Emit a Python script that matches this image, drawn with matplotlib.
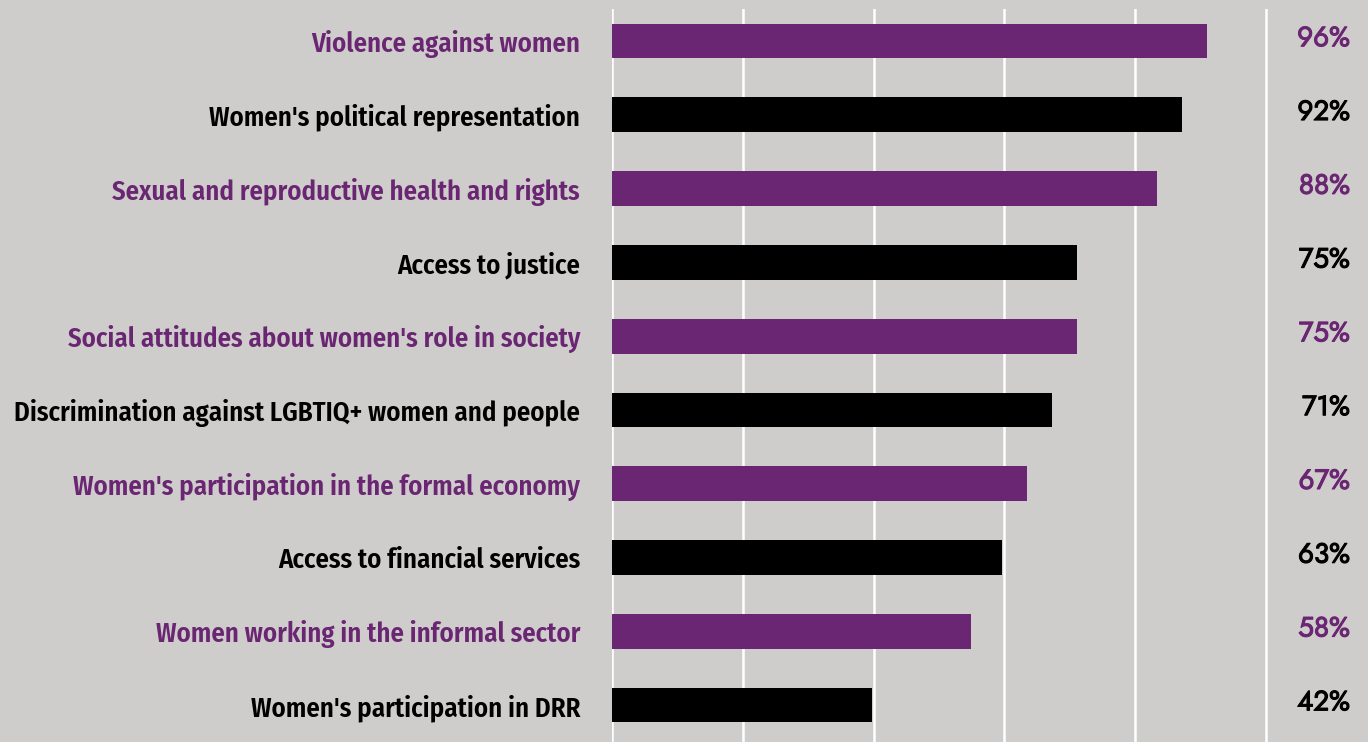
import matplotlib.pyplot as plt
import matplotlib.patheffects as pe
from matplotlib.transforms import blended_transform_factory, ScaledTranslation

# data, top to bottom
labels = ["Violence against women",
          "Women's political representation",
          "Sexual and reproductive health and rights",
          "Access to justice",
          "Social attitudes about women's role in society",
          "Discrimination against LGBTIQ+ women and people",
          "Women's participation in the formal economy",
          "Access to financial services",
          "Women working in the informal sector",
          "Women's participation in DRR"]
values = [96, 92, 88, 75, 75, 71, 67, 63, 58, 42]

purple = "#6a2672"
bg = "#cfcdcb"
colors = [purple if i % 2 == 0 else "black" for i in range(len(values))]

fig = plt.figure(figsize=(13.68, 7.42), dpi=100, facecolor=bg)
ax = fig.add_axes([612 / 1368, 0, 756 / 1368, 733 / 742])
ax.set_facecolor(bg)

ypos = list(range(len(values)))
ax.barh(ypos, values, height=0.47, color=colors, zorder=3)

# white vertical gridlines
step = 21.1
for k in range(6):
    ax.axvline(k * step, color="white", lw=1.8, zorder=1)

ax.set_xlim(0, 122)
ax.set_ylim(9.5, -0.434)
for s in ax.spines.values():
    s.set_visible(False)
ax.set_xticks([])
ax.set_yticks(ypos)
ax.set_yticklabels(labels, fontsize=19.3, fontweight="semibold",
                   family=["Fira Sans Condensed", "DejaVu Sans"])
for t, c in zip(ax.get_yticklabels(), colors):
    t.set_color(c)
ax.tick_params(axis="y", length=0, pad=23)

tr = blended_transform_factory(fig.transFigure, ax.transData)
up = ScaledTranslation(0, 2 / 72, fig.dpi_scale_trans)
for y, v, c in zip(ypos, values, colors):
    ax.text(1350 / 1368, y, f"{v}%", transform=tr + up, ha="right", va="center",
            fontsize=20, family=["Jost", "DejaVu Sans"], color=c,
            path_effects=[pe.withStroke(linewidth=0.8, foreground=c)])

fig.savefig("out.png", dpi=100, facecolor=bg)
